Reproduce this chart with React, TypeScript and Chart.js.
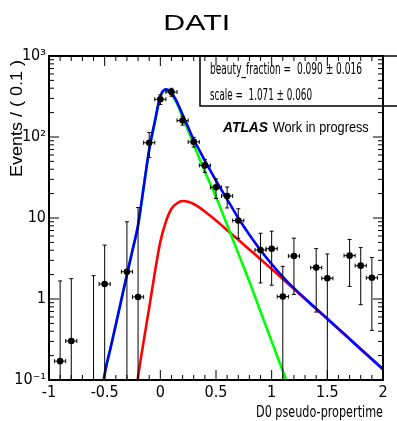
import React, { useEffect, useRef } from "react";
import { Chart, registerables } from "chart.js";

Chart.register(...registerables);

const NARROW = "'Liberation Sans Narrow', 'DejaVu Sans Condensed', 'Liberation Sans', Arial, sans-serif";
const REGULAR = "'Liberation Sans', Arial, Helvetica, sans-serif";

// ---- data histogram (sWeighted), bin width 0.1 ----
const binCenters = [-0.9, -0.8, -0.6, -0.5, -0.3, -0.2, -0.1, 0.0, 0.1, 0.2, 0.3, 0.4, 0.5, 0.6, 0.7, 0.9, 1.0, 1.1, 1.2, 1.4, 1.5, 1.7, 1.8, 1.9];
const binValues = [0.171, 0.303, -0.06, 1.53, 2.17, 1.06, 85, 292, 359, 160, 87, 44.6, 23.9, 18.7, 9.3, 4.03, 4.18, 1.07, 3.39, 2.44, 1.8, 3.43, 2.58, 1.83];
const binErrors = [1.5, 1.48, 2.0, 3.1, 6.8, 12.4, 29, 40, 40, 20, 12, 8, 6.5, 5.4, 3.7, 2.45, 2.7, 1.46, 2.25, 1.75, 1.8, 2.0, 1.73, 1.42];
const binHalfWidth = 0.05;

// ---- fit curves ----
const totalX = [-0.55, -0.5, -0.45, -0.4, -0.35, -0.3, -0.25, -0.2, -0.15, -0.1, -0.05, 0, 0.05, 0.1, 0.15, 0.2, 0.25, 0.3, 0.35, 0.4, 0.5, 0.6, 0.7, 0.8, 0.9, 1.0, 1.1, 1.2, 1.4, 1.6, 1.8, 2.0];
const totalY = [0.04, 0.118, 0.24, 0.48, 0.98, 2.0, 4.0, 8.2, 24, 70, 154, 320, 388, 350, 270, 188, 132, 92, 69, 51, 29, 17, 10, 6.2, 4.0, 2.7, 1.88, 1.36, 0.76, 0.43, 0.24, 0.136];

const promptX = [-0.55, -0.5, -0.45, -0.4, -0.35, -0.3, -0.25, -0.2, -0.15, -0.1, -0.05, 0, 0.05, 0.1, 0.15, 0.2, 0.25, 0.3, 0.4, 0.5, 0.6, 0.7, 0.8, 0.9, 1.0, 1.1, 1.2];
const promptY = [0.04, 0.118, 0.24, 0.48, 0.98, 2.0, 4.0, 8.1, 23.5, 69, 150, 310, 375, 335, 258, 175, 120, 81, 37.2, 18.3, 8.2, 3.66, 1.64, 0.7, 0.3, 0.129, 0.055];

const beautyX = [-0.25, -0.2, -0.15, -0.1, -0.05, 0, 0.05, 0.1, 0.15, 0.2, 0.25, 0.3, 0.35, 0.4, 0.5, 0.6, 0.7, 0.8, 0.9, 1.0, 1.1, 1.2, 1.4, 1.6, 1.8, 2.0];
const beautyY = [0.035, 0.11, 0.3, 0.78, 2.1, 5.1, 9.0, 13.0, 15.2, 16.2, 15.9, 14.9, 13.5, 12.0, 9.3, 7.08, 5.38, 4.09, 3.1, 2.34, 1.76, 1.33, 0.752, 0.426, 0.241, 0.136];

// ---- axes ----
const xTickValues = [-1, -0.5, 0, 0.5, 1, 1.5, 2];
const xTickLabels = ["-1", "-0.5", "0", "0.5", "1", "1.5", "2"];
const yTickValues = [0.1, 1, 10, 100, 1000];
const yTickLabels = ["10\u207B\u00B9", "1", "10", "10\u00B2", "10\u00B3"];

const titleText = "DATI";
const xTitle = "D0 pseudo-propertime";
const yTitle = "Events / ( 0.1 )";
const paramLines = ["beauty_fraction =  0.090 \u00B1 0.016", "scale =  1.071 \u00B1 0.060"];

function fitText(
  ctx: CanvasRenderingContext2D,
  text: string,
  x: number,
  y: number,
  font: string,
  width: number,
  align: CanvasTextAlign,
  rotate = 0
) {
  ctx.save();
  ctx.font = font;
  const w = ctx.measureText(text).width;
  ctx.translate(x, y);
  if (rotate) ctx.rotate(rotate);
  ctx.scale(width / w, 1);
  ctx.textAlign = align;
  ctx.textBaseline = "alphabetic";
  ctx.fillStyle = "#000";
  ctx.fillText(text, 0, 0);
  ctx.restore();
}

const rootPlugin = {
  id: "rootStyle",
  afterDatasetsDraw(chart: any) {
    const { ctx, chartArea } = chart;
    const xs = chart.scales.x;
    const ys = chart.scales.y;
    const { left, right, top, bottom } = chartArea;
    ctx.save();
    ctx.beginPath();
    ctx.rect(left, top, right - left, bottom - top);
    ctx.clip();
    ctx.strokeStyle = "#000";
    ctx.fillStyle = "#000";
    ctx.lineWidth = 1;
    binCenters.forEach((c, i) => {
      const v = binValues[i];
      const e = binErrors[i];
      const px = xs.getPixelForValue(c);
      const hi = v + e;
      const lo = v - e;
      const pyHi = ys.getPixelForValue(hi);
      const pyLo = lo > 0 ? ys.getPixelForValue(lo) : bottom + 5;
      ctx.beginPath();
      ctx.moveTo(px, pyLo);
      ctx.lineTo(px, pyHi);
      ctx.moveTo(px - 2, pyHi);
      ctx.lineTo(px + 2, pyHi);
      if (lo > 0) {
        ctx.moveTo(px - 2, pyLo);
        ctx.lineTo(px + 2, pyLo);
      }
      ctx.stroke();
      if (v > 0) {
        const py = ys.getPixelForValue(v);
        const x0 = xs.getPixelForValue(c - binHalfWidth);
        const x1 = xs.getPixelForValue(c + binHalfWidth);
        ctx.beginPath();
        ctx.moveTo(x0, py);
        ctx.lineTo(x1, py);
        ctx.moveTo(x0, py - 2);
        ctx.lineTo(x0, py + 2);
        ctx.moveTo(x1, py - 2);
        ctx.lineTo(x1, py + 2);
        ctx.stroke();
        ctx.beginPath();
        ctx.arc(px, py, 3.3, 0, Math.PI * 2);
        ctx.fill();
      }
    });
    ctx.restore();
  },
  afterDraw(chart: any) {
    const { ctx, chartArea, width } = chart;
    const xs = chart.scales.x;
    const ys = chart.scales.y;
    const { left, right, top, bottom } = chartArea;
    ctx.save();
    ctx.strokeStyle = "#000";

    // parameter box
    ctx.lineWidth = 1.5;
    ctx.beginPath();
    ctx.moveTo(width + 2, top);
    ctx.lineTo(200, top);
    ctx.lineTo(200, 106);
    ctx.lineTo(width + 2, 106);
    ctx.stroke();

    // frame
    ctx.lineWidth = 2;
    ctx.strokeRect(left, top, right - left, bottom - top);

    // inward ticks
    ctx.lineWidth = 1;
    ctx.beginPath();
    for (let k = 0; k <= 30; k++) {
      const v = -1 + k * 0.1;
      const px = xs.getPixelForValue(v);
      const len = k % 5 === 0 ? 10 : 5;
      ctx.moveTo(px, bottom);
      ctx.lineTo(px, bottom - len);
      ctx.moveTo(px, top);
      ctx.lineTo(px, top + len);
    }
    for (let d = -1; d <= 3; d++) {
      for (let m = 1; m <= 9; m++) {
        const v = m * Math.pow(10, d);
        if (v > 1000.0001) continue;
        const py = ys.getPixelForValue(v);
        const len = m === 1 ? 10 : 5;
        ctx.moveTo(left, py);
        ctx.lineTo(left + len, py);
        ctx.moveTo(right, py);
        ctx.lineTo(right - len, py);
      }
    }
    ctx.stroke();

    // texts
    fitText(ctx, titleText, 196.7, 29.5, `22px ${REGULAR}`, 67, "center");
    fitText(ctx, yTitle, 21.5, 118.5, `16px ${REGULAR}`, 117, "center", -Math.PI / 2);
    fitText(ctx, xTitle, 383, 416.5, `15px ${NARROW}`, 127, "right");
    fitText(ctx, "ATLAS", 223, 131.7, `italic bold 14px ${REGULAR}`, 45, "left");
    fitText(ctx, "Work in progress", 272.7, 131.7, `14px ${REGULAR}`, 96, "left");
    fitText(ctx, paramLines[0], 210, 74, `15px ${NARROW}`, 152, "left");
    fitText(ctx, paramLines[1], 210, 99.5, `15px ${NARROW}`, 102, "left");
    ctx.restore();
  },
};

function xy(xsArr: number[], ysArr: number[]) {
  return xsArr.map((x, i) => ({ x, y: ysArr[i] }));
}

export default function App() {
  const ref = useRef<HTMLCanvasElement | null>(null);
  useEffect(() => {
    const canvas = ref.current;
    if (!canvas) return;
    const lineDefaults = {
      pointRadius: 0,
      borderWidth: 2.6,
      fill: false,
      cubicInterpolationMode: "monotone" as const,
      clip: 0,
    };
    const chart = new Chart(canvas, {
      type: "line",
      data: {
        datasets: [
          { label: "total", data: xy(totalX, totalY), borderColor: "#0000ff", ...lineDefaults },
          { label: "prompt", data: xy(promptX, promptY), borderColor: "#00ff00", ...lineDefaults },
          { label: "beauty", data: xy(beautyX, beautyY), borderColor: "#ff0000", ...lineDefaults },
        ],
      },
      options: {
        responsive: false,
        animation: false,
        devicePixelRatio: 1,
        layout: { padding: { top: 56, right: 14, left: 0, bottom: 0 } },
        plugins: {
          legend: { display: false },
          title: { display: false },
          tooltip: { enabled: false },
        },
        scales: {
          x: {
            type: "linear",
            min: -1,
            max: 2,
            grid: { display: false, drawTicks: false },
            border: { display: false },
            afterFit: (s: any) => {
              s.height = 41;
            },
            afterBuildTicks: (s: any) => {
              s.ticks = xTickValues.map((v) => ({ value: v }));
            },
            ticks: {
              autoSkip: false,
              maxRotation: 0,
              padding: 3,
              color: "#000",
              font: { family: NARROW, size: 16 },
              callback: (_v: any, i: number) => xTickLabels[i],
            },
          },
          y: {
            type: "logarithmic",
            min: 0.1,
            max: 1000,
            grid: { display: false, drawTicks: false },
            border: { display: false },
            afterFit: (s: any) => {
              s.width = 49;
            },
            afterBuildTicks: (s: any) => {
              s.ticks = yTickValues.map((v) => ({ value: v }));
            },
            ticks: {
              autoSkip: false,
              padding: 3,
              color: "#000",
              font: { family: NARROW, size: 16 },
              callback: (_v: any, i: number) => yTickLabels[i],
            },
          },
        },
      },
      plugins: [rootPlugin],
    } as any);
    return () => chart.destroy();
  }, []);
  return (
    <div style={{ position: "fixed", left: 0, top: 0, width: 397, height: 421, background: "#fff" }}>
      <canvas ref={ref} width={397} height={421} style={{ display: "block" }} />
    </div>
  );
}
